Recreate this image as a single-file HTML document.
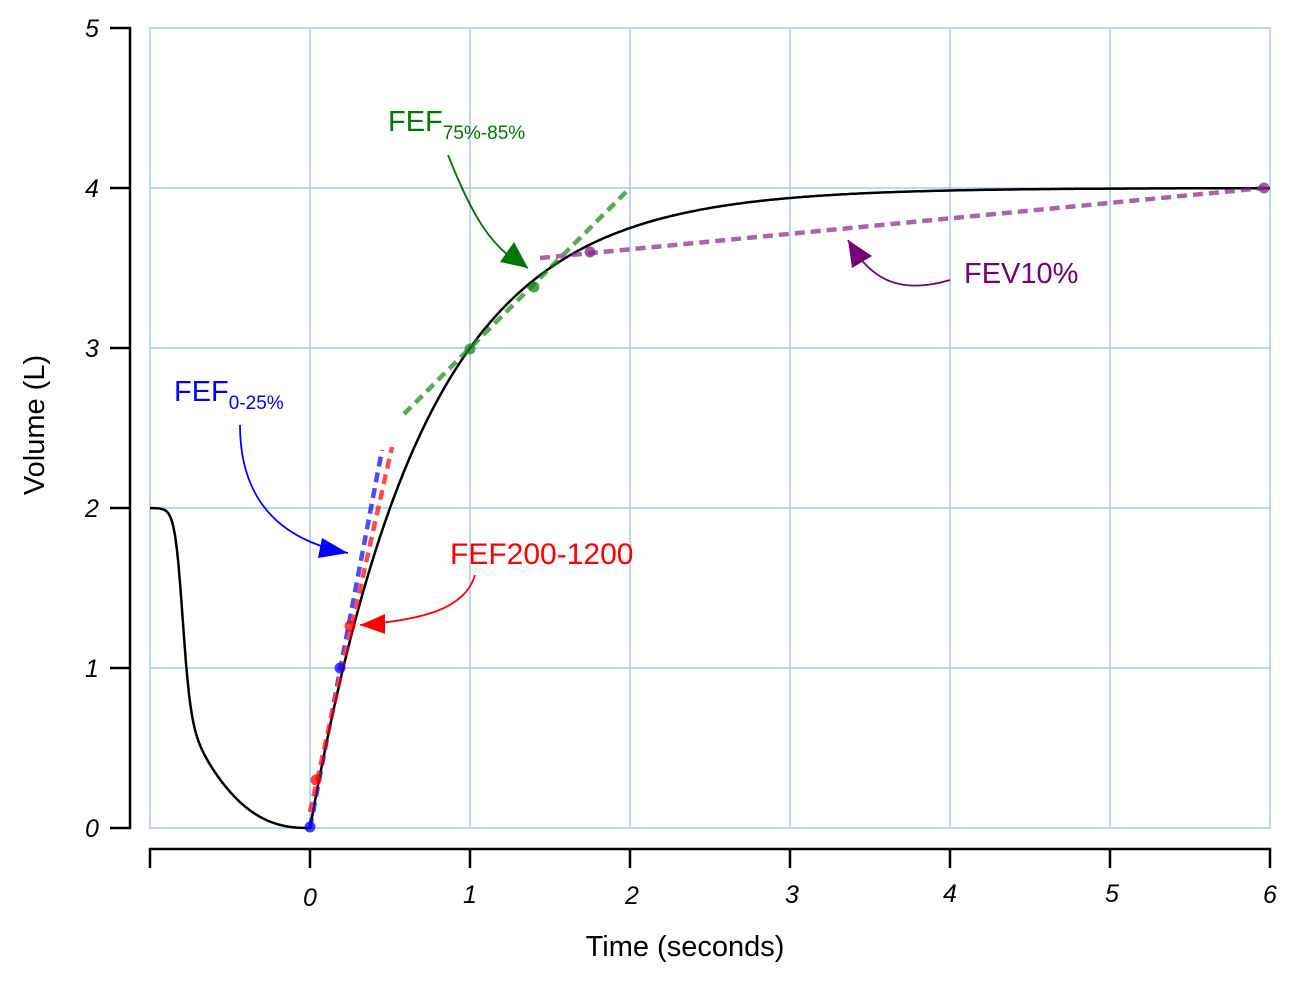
<!DOCTYPE html>
<html><head><style>body{margin:0;background:#fff}svg{display:block}text{font-family:"Liberation Sans",sans-serif}</style></head>
<body>
<svg id="s" width="1304" height="983" viewBox="0 0 1304 983" xmlns="http://www.w3.org/2000/svg">
<rect width="1304" height="983" fill="#fff"/>
<g stroke="#a9c8ff" stroke-width="1.5" fill="none">
<rect x="150" y="28" width="1120" height="800"/>
<path d="M310 28V828M470 28V828M630 28V828M790 28V828M950 28V828M1110 28V828M150 188H1270M150 348H1270M150 508H1270M150 668H1270"/>
</g>
<g stroke="#000" stroke-width="2.5" fill="none">
<path d="M110 28H130V828H110M130 188H110M130 348H110M130 508H110M130 668H110"/>
<path d="M150 868V849H1270V868M310 849V868M470 849V868M630 849V868M790 849V868M950 849V868M1110 849V868"/>
</g>
<g font-size="25" text-anchor="middle" font-style="italic">
<text x="92" y="37">5</text><text x="92" y="197">4</text><text x="92" y="357">3</text><text x="92" y="517">2</text><text x="92" y="677">1</text><text x="92" y="837">0</text>
<text x="310" y="906">0</text><text x="470" y="903">1</text><text x="632" y="904">2</text><text x="792" y="903">3</text><text x="950" y="902">4</text><text x="1112" y="902">5</text><text x="1270" y="903">6</text>
</g>
<text x="685" y="956" font-size="29" text-anchor="middle">Time (seconds)</text>
<text transform="translate(44 425) rotate(-90)" font-size="29" text-anchor="middle">Volume (L)</text>
<path id="c" fill="none" stroke="#000" stroke-width="2.5"/>
<g stroke-width="4.5" stroke-dasharray="10 6" fill="none" opacity="0.7">
<path d="M310 828L382 450" stroke="#0000ff"/>
<path d="M310 812L392 447" stroke="#ff0000"/>
<path d="M404 414L630 188" stroke="#118811"/>
<path d="M540 258L1264 188" stroke="#882288"/>
</g>
<g opacity="0.75">
<circle cx="310" cy="827" r="5.5" fill="#0000ff"/><circle cx="340" cy="668" r="5.5" fill="#0000ff"/>
<circle cx="316" cy="780" r="5.5" fill="#ff0000"/><circle cx="350" cy="626" r="5.5" fill="#ff0000"/>
<circle cx="470" cy="349" r="5.5" fill="#118811"/><circle cx="534" cy="287" r="5.5" fill="#118811"/>
<circle cx="590" cy="252" r="5.5" fill="#882288"/><circle cx="1264" cy="188" r="5.5" fill="#882288"/>
</g>
<g fill="none" stroke-width="1.8">
<path d="M448 155C470 210 490 250 528 268" stroke="#007700"/><path d="M528 268L500 262L514 242Z" fill="#007700" stroke="none"/>
<path d="M240 425C240 500 280 540 348 553" stroke="#0000ff"/><path d="M348 553L318 558L322 538Z" fill="#0000ff" stroke="none"/>
<path d="M475 575C465 610 420 620 360 625" stroke="#ff0000"/><path d="M360 625L385 614L385 634Z" fill="#ff0000" stroke="none"/>
<path d="M950 280C900 295 870 280 848 240" stroke="#770077"/><path d="M848 240L872 256L852 268Z" fill="#770077" stroke="none"/>
</g>
<text x="388" y="131" font-size="29" fill="#007700">FEF<tspan font-size="19" dy="8">75%-85%</tspan></text>
<text x="174" y="401" font-size="29" fill="#0000ff">FEF<tspan font-size="19" dy="8">0-25%</tspan></text>
<text x="450" y="564" font-size="30" fill="#ff0000">FEF200-1200</text>
<text x="964" y="283" font-size="29" fill="#770077">FEV10%</text>
</svg>
<script>
var d="M150 508",x;
for(x=-1;x<=0.0001;x+=0.004){var a=Math.abs(x),tail=1.28*Math.pow(a,2.5);var v=tail+(2-tail)/(1+Math.exp((x+0.8)/0.025));d+="L"+(310+160*x).toFixed(1)+" "+(828-160*v).toFixed(1);}
for(x=0;x<=6;x+=0.01){var v=4*(1-Math.exp(-x/0.7213));d+="L"+(310+160*x).toFixed(1)+" "+(828-160*v).toFixed(1);}
document.getElementById("c").setAttribute("d",d);
</script>
</body></html>
